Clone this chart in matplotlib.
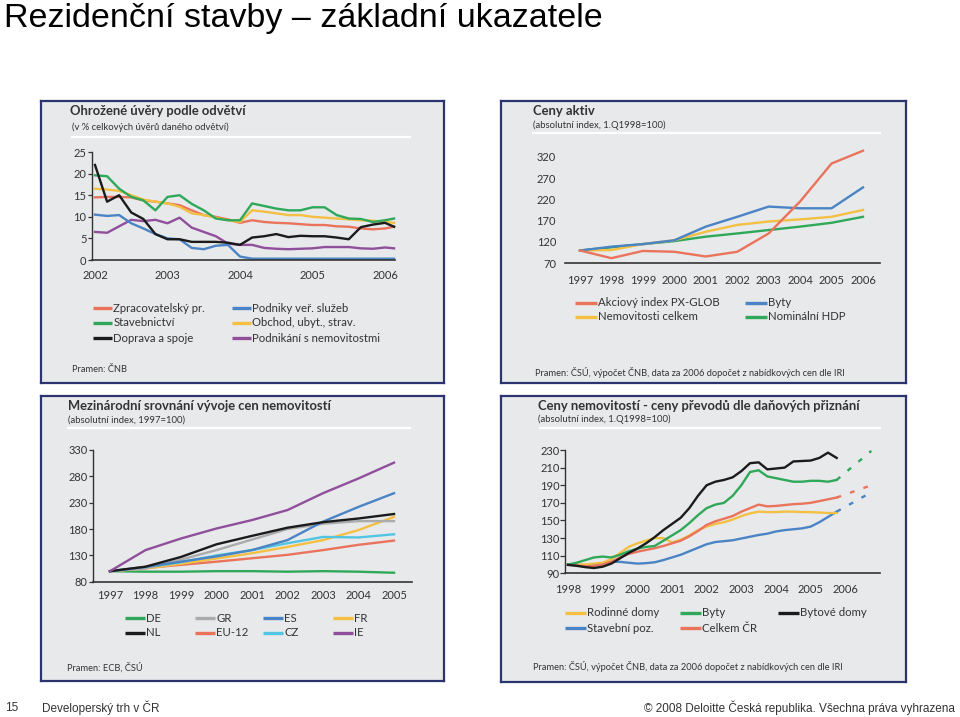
import numpy as np
import matplotlib
matplotlib.use('Agg')
import matplotlib.pyplot as plt
from matplotlib.lines import Line2D

W, H = 960, 717
plt.rcParams['font.family'] = ['Lato', 'Noto Sans', 'DejaVu Sans']

RED = '#ea735c'
GREEN = '#2fa85a'
BLACK = '#1b1b1b'
BLUE = '#4a84c4'
YELLOW = '#f4c043'
PURPLE = '#8f4f9b'
GRAY = '#ababab'
CYAN = '#52c5e3'
PANEL = '#e8e9eb'
FRAME = '#2c3470'
TXT = '#333333'

# --- panel 1: Ohrozene uvery podle odvetvi (bi-monthly, 2002-2006)
months1 = [0, 2, 4, 6, 8, 10, 12, 14, 16, 18, 20, 22, 24, 26, 28, 30, 32, 34,
           36, 38, 40, 42, 44, 46, 48, 49.5]
zprac = [14.5, 14.6, 14.6, 14.5, 13.8, 13.5, 13.1, 12.7, 11.5, 10.4, 10.0, 9.4, 8.6,
         9.2, 8.8, 8.6, 8.5, 8.3, 8.1, 8.1, 7.8, 7.7, 7.3, 7.1, 7.3, 7.7]
stavebnictvi = [19.6, 19.4, 16.5, 14.6, 13.8, 11.5, 14.6, 15.0, 13.0, 11.5, 9.6, 9.2, 9.2,
                13.1, 12.5, 11.9, 11.5, 11.5, 12.2, 12.2, 10.4, 9.6, 9.5, 8.8, 9.2, 9.6]
doprava = [22.0, 13.5, 15.0, 11.0, 9.5, 6.0, 4.8, 4.8, 4.2, 4.2, 4.2, 4.0, 3.5,
           5.2, 5.5, 6.0, 5.3, 5.6, 5.5, 5.5, 5.2, 4.8, 7.6, 8.2, 8.6, 7.7]
podniky = [10.5, 10.2, 10.4, 8.5, 7.3, 6.0, 5.0, 4.8, 2.8, 2.5, 3.3, 3.5, 0.8,
           0.3, 0.3, 0.3, 0.3, 0.3, 0.3, 0.3, 0.3, 0.3, 0.3, 0.3, 0.3, 0.3]
obchod = [16.5, 16.3, 16.0, 15.0, 14.0, 13.5, 13.1, 12.3, 10.8, 10.4, 9.8, 9.2, 8.8,
          11.5, 11.2, 10.8, 10.4, 10.4, 10.0, 9.8, 9.6, 9.4, 9.2, 9.1, 8.8, 8.6]
nemovitosti1 = [6.5, 6.3, 7.8, 9.3, 9.0, 9.3, 8.5, 9.8, 7.5, 6.5, 5.5, 3.8, 3.5,
                3.5, 2.8, 2.6, 2.5, 2.6, 2.7, 3.0, 3.0, 3.0, 2.7, 2.6, 2.9, 2.7]
years1_ticks = [2002, 2003, 2004, 2005, 2006]
y1_ticks = [0, 5, 10, 15, 20, 25]

# --- panel 2: Ceny aktiv
years2 = [1997, 1998, 1999, 2000, 2001, 2002, 2003, 2004, 2005, 2006]
akcie = [100, 82, 99, 97, 86, 97, 140, 215, 304, 334]
byty2 = [100, 109, 115, 124, 156, 179, 203, 199, 199, 248]
nemov_celkem = [100, 101, 115, 124, 144, 160, 168, 173, 179, 195]
hdp = [100, 107.5, 115, 122, 132.5, 140, 148, 156, 165, 179]
y2_ticks = [70, 120, 170, 220, 270, 320]

# --- panel 3: Mezinarodni srovnani
years3 = [1997, 1998, 1999, 2000, 2001, 2002, 2003, 2004, 2005]
de = [100, 99, 99, 100, 100, 99, 100, 99, 97]
gr = [100, 105, 122, 140, 160, 180, 190, 195, 195]
es = [100, 108, 118, 128, 140, 159, 194, 222, 248]
fr = [100, 105, 114, 124, 134, 146, 159, 178, 203]
nl = [100, 108.5, 127, 151, 167, 182.5, 193, 200, 208.5]
eu12 = [100, 106, 112, 118, 124.5, 131, 140, 150, 158]
cz = [100, 107, 117, 130, 140, 153, 165, 164, 170]
ie = [100, 140, 162, 181, 197, 216, 248, 276, 306]
y3_ticks = [80, 130, 180, 230, 280, 330]

# --- panel 4: Ceny nemovitosti - ceny prevodu (quarterly 1998Q1-2005Q4)
quarters4 = 1998 + np.arange(32) / 4
bytove_domy = [99.5, 98.5, 97, 96, 97.5, 101, 107, 113, 118, 124, 131, 139, 146, 153, 164, 178,
               190, 194, 196, 199, 206, 215, 216, 208, 209, 210, 217, 217.5, 218, 221, 227, 221]
byty4 = [100, 102, 105, 108, 109, 108, 111, 115, 118, 120, 121, 127, 133, 139, 147, 156,
         164, 168, 170, 178, 190, 205, 207, 200, 198, 196, 194, 194, 195, 195, 194, 196]
celkem = [100, 99, 98, 98.5, 100, 103, 108, 112, 114.5, 116.5, 118.5, 121, 124, 127, 132, 138,
          145, 149, 152, 155, 160, 164, 168, 166, 166.5, 167.5, 168.5, 169, 170, 172, 174, 176]
rodinne = [100, 100, 100, 101, 102, 106, 113, 120, 124, 127, 130, 130, 125, 128, 133, 139,
           143, 146, 148, 151, 155, 158, 160, 159.5, 159.5, 160, 160, 159.5, 159.5, 159, 158.5, 158.5]
stav_poz = [100, 99.5, 99, 100, 101.5, 103, 103, 102, 101, 101.5, 102.5, 105, 108, 111, 115, 119,
            123, 125.5, 126.5, 127.5, 129.5, 131.5, 133.5, 135, 137.5, 139, 140, 141, 143, 148, 154, 160]
proj_x = [2005.75, 2006.75]
byty4_proj = [196, 229]
celkem_proj = [176, 190]
stav_poz_proj = [160, 182]
years4_ticks = [1998, 1999, 2000, 2001, 2002, 2003, 2004, 2005, 2006]
y4_ticks = [90, 110, 130, 150, 170, 190, 210, 230]

fig = plt.figure(figsize=(W / 100, H / 100), dpi=100)

TITLE_FS = 9.4
SUB_FS = 6.8
LEG_FS = 8.2
SRC_FS = 6.7
TICK_FS = 8


def px_axes(l, t, r, b):
    return fig.add_axes([l / W, 1 - b / H, (r - l) / W, (b - t) / H])


def ftext(x, y, s, **kw):
    kw.setdefault('va', 'center')
    fig.text(x / W, 1 - y / H, s, **kw)


def panel(l, t, r, b, sep_y, sep_l, sep_r):
    bg = px_axes(l, t, r, b)
    bg.set_facecolor(PANEL)
    bg.set_xticks([])
    bg.set_yticks([])
    for s in bg.spines.values():
        s.set_color(FRAME)
        s.set_linewidth(1.6)
    bg.set_xlim(l, r)
    bg.set_ylim(b, t)
    bg.plot([sep_l, sep_r], [sep_y, sep_y], color='white', lw=1.6)
    return bg


def chart(l, t, r, b, left_spine=True, ylen=3, ypad=1, xpad=8):
    ax = px_axes(l, t, r, b)
    ax.patch.set_alpha(0)
    for s in ['top', 'right']:
        ax.spines[s].set_visible(False)
    ax.spines['left'].set_visible(left_spine)
    ax.spines['left'].set_color(TXT)
    ax.spines['bottom'].set_color(TXT)
    ax.spines['left'].set_linewidth(1.0)
    ax.spines['bottom'].set_linewidth(1.2)
    ax.tick_params(axis='y', labelsize=TICK_FS, colors=TXT, length=ylen, width=0.9, pad=ypad)
    ax.tick_params(axis='x', labelsize=TICK_FS, colors=TXT, length=0, pad=xpad)
    return ax


def legend_entry(x, y, color, label, hl=20):
    h = Line2D([], [], color=color, lw=2.4, solid_capstyle='butt')
    fig.legend([h], [label], loc='center left', bbox_to_anchor=(x / W, 1 - y / H),
               frameon=False, fontsize=LEG_FS, handlelength=hl / (LEG_FS * 100 / 72),
               handletextpad=0.12, borderpad=0, borderaxespad=0, labelcolor=TXT)


LW = 1.7

# ---------- panel 1
panel(41, 101, 444, 383, 136.7, 72, 410)
ftext(70, 111, 'Ohrožené úvěry podle odvětví', fontsize=TITLE_FS, fontweight='bold', color=TXT)
ftext(72, 127, '(v % celkových úvěrů daného odvětví)', fontsize=SUB_FS, color=TXT)
ax1 = chart(92, 152, 395, 260, ylen=3, ypad=1, xpad=7.5)
x1 = 2002 + np.array(months1) / 12
series1 = [(zprac, RED), (obchod, YELLOW), (nemovitosti1, PURPLE), (podniky, BLUE),
           (stavebnictvi, GREEN), (doprava, BLACK)]
for vals, col in series1:
    ax1.plot(x1, vals, color=col, lw=LW, clip_on=False)
ax1.set_xlim(2002 - 3 / 72.5, 2002 + 300 / 72.5)
ax1.set_ylim(0, 25)
ax1.set_xticks(years1_ticks)
ax1.set_yticks(y1_ticks)
for lab, col, x, y in [('Zpracovatelský pr.', RED, 93, 308), ('Stavebnictví', GREEN, 93, 323),
                       ('Doprava a spoje', BLACK, 93, 338), ('Podniky veř. služeb', BLUE, 232, 308),
                       ('Obchod, ubyt., strav.', YELLOW, 232, 323),
                       ('Podnikání s nemovitostmi', PURPLE, 232, 338)]:
    legend_entry(x, y, col, lab, hl=19)
ftext(72, 370, 'Pramen: ČNB', fontsize=SRC_FS, color=TXT)

# ---------- panel 2
panel(501, 101, 906, 383, 133.3, 533, 880)
ftext(533, 111, 'Ceny aktiv', fontsize=TITLE_FS, fontweight='bold', color=TXT)
ftext(533, 125, '(absolutní index, 1.Q1998=100)', fontsize=SUB_FS, color=TXT)
ax2 = chart(565, 150.3, 880, 263.3, left_spine=False, ylen=0, ypad=6.5, xpad=8.5)
for vals, col in [(hdp, GREEN), (nemov_celkem, YELLOW), (byty2, BLUE), (akcie, RED)]:
    ax2.plot(years2, vals, color=col, lw=LW, clip_on=False)
ax2.set_xlim(1997 - 15 / 31.44, 2006 + 17 / 31.44)
ax2.set_ylim(70, 335)
ax2.set_xticks(years2)
ax2.set_yticks(y2_ticks)
for lab, col, x, y in [('Akciový index PX-GLOB', RED, 575, 303), ('Nemovitosti celkem', YELLOW, 575, 317),
                       ('Byty', BLUE, 745, 303), ('Nominální HDP', GREEN, 745, 317)]:
    legend_entry(x, y, col, lab, hl=22)
ftext(535, 372, 'Pramen: ČSÚ, výpočet ČNB, data za 2006 dopočet z nabídkových cen dle IRI',
      fontsize=SRC_FS, color=TXT)

# ---------- panel 3
panel(41, 396, 444, 681, 428.3, 68, 410)
ftext(68, 406.5, 'Mezinárodní srovnání vývoje cen nemovitostí', fontsize=TITLE_FS,
      fontweight='bold', color=TXT)
ftext(68, 420.5, '(absolutní index, 1997=100)', fontsize=SUB_FS, color=TXT)
ax3 = chart(93.3, 450, 411.7, 581.7, ylen=3, ypad=1, xpad=6)
for vals, col in [(de, GREEN), (eu12, RED), (fr, YELLOW), (cz, CYAN), (gr, GRAY),
                  (es, BLUE), (nl, BLACK), (ie, PURPLE)]:
    ax3.plot(years3, vals, color=col, lw=LW, clip_on=False)
ax3.set_xlim(1997 - 16.7 / 35.5, 2005 + 17.7 / 35.5)
ax3.set_ylim(80, 330)
ax3.set_xticks(years3)
ax3.set_yticks(y3_ticks)
for lab, col, x, y in [('DE', GREEN, 125, 618), ('NL', BLACK, 125, 633), ('GR', GRAY, 195, 618),
                       ('EU-12', RED, 195, 633), ('ES', BLUE, 263, 618), ('CZ', CYAN, 263, 633),
                       ('FR', YELLOW, 333, 618), ('IE', PURPLE, 333, 633)]:
    legend_entry(x, y, col, lab, hl=20)
ftext(67, 668, 'Pramen: ECB, ČSÚ', fontsize=SRC_FS, color=TXT)

# ---------- panel 4
panel(501, 396, 906, 682, 428.3, 540, 880)
ftext(538, 406.5, 'Ceny nemovitostí - ceny převodů dle daňových přiznání', fontsize=TITLE_FS,
      fontweight='bold', color=TXT)
ftext(538, 419, '(absolutní index, 1.Q1998=100)', fontsize=SUB_FS, color=TXT)
ax4 = chart(565, 450, 880, 573.3, ylen=3.5, ypad=0.5, xpad=8)
for vals, col in [(stav_poz, BLUE), (rodinne, YELLOW), (celkem, RED), (byty4, GREEN), (bytove_domy, BLACK)]:
    ax4.plot(quarters4, vals, color=col, lw=LW, clip_on=False)
for vals, col in [(stav_poz_proj, BLUE), (celkem_proj, RED), (byty4_proj, GREEN)]:
    ax4.plot(proj_x, vals, color=col, lw=LW, ls=(0, (2, 4)), clip_on=False)
ax4.set_xlim(1998 - 3 / 35, 1998 + 315 / 35)
ax4.set_ylim(90, 230)
ax4.set_xticks(years4_ticks)
ax4.set_yticks(y4_ticks)
for lab, col, x, y in [('Rodinné domy', YELLOW, 565, 613), ('Stavební poz.', BLUE, 565, 628),
                       ('Byty', GREEN, 680, 613), ('Celkem ČR', RED, 680, 628),
                       ('Bytové domy', BLACK, 778, 613)]:
    legend_entry(x, y, col, lab, hl=21)
ftext(533, 667, 'Pramen: ČSÚ, výpočet ČNB, data za 2006 dopočet z nabídkových cen dle IRI',
      fontsize=SRC_FS, color=TXT)

# ---------- slide texts
ftext(4, 19, 'Rezidenční stavby – základní ukazatele', fontsize=24.5,
      family=['Liberation Sans', 'DejaVu Sans'], color='black')
ftext(5, 708, '15', fontsize=8.5, family=['Liberation Sans', 'DejaVu Sans'], color=TXT)
ftext(42, 708, 'Developerský trh v ČR', fontsize=8.5, family=['Liberation Sans', 'DejaVu Sans'], color=TXT)
ftext(955, 708, '© 2008 Deloitte Česká republika. Všechna práva vyhrazena', fontsize=8.5,
      family=['Liberation Sans', 'DejaVu Sans'], color=TXT, ha='right')

fig.savefig('out.png', dpi=100, facecolor='white')
